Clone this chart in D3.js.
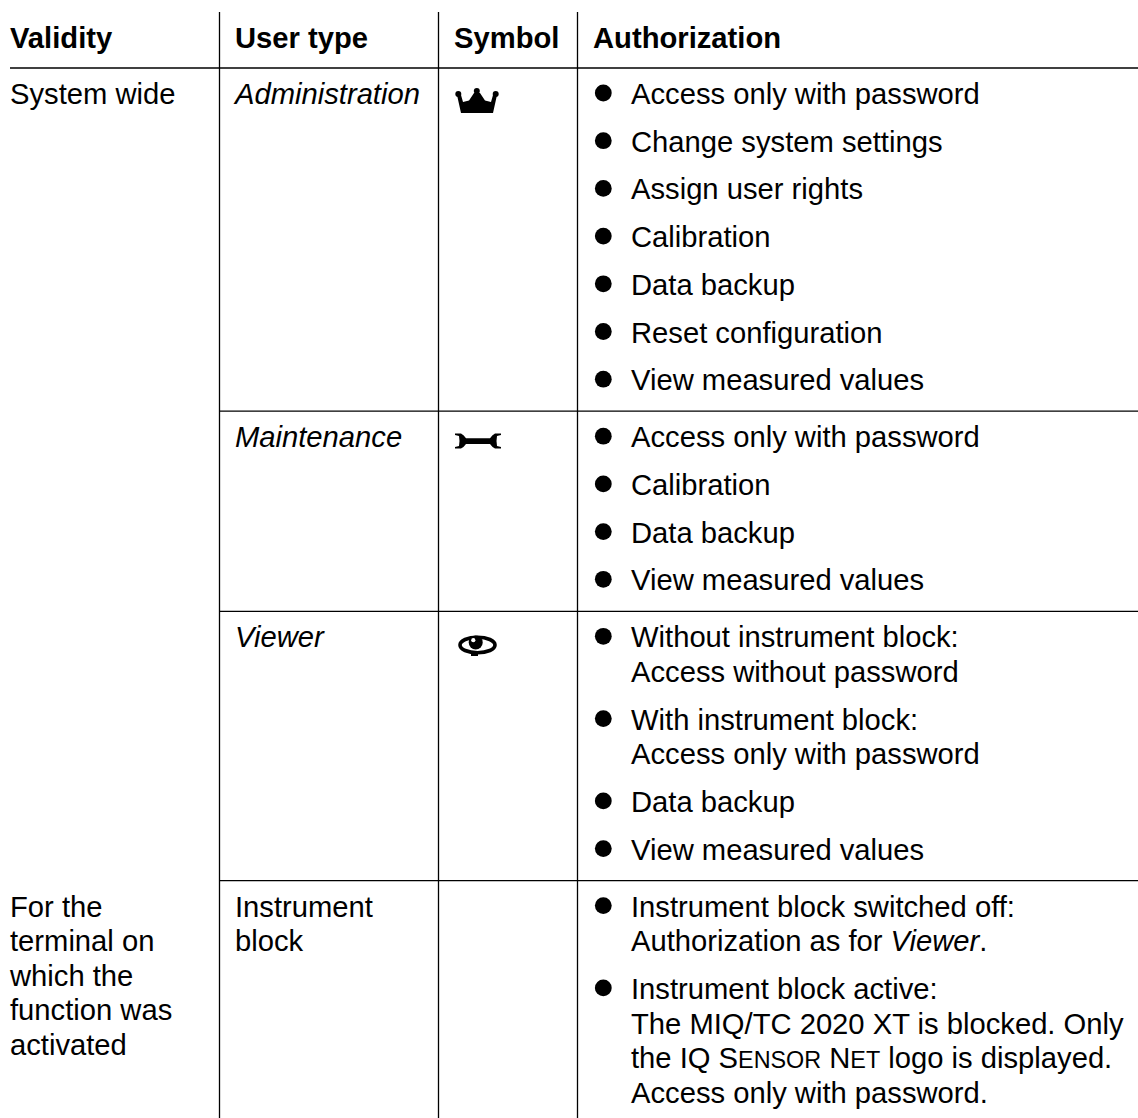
<!DOCTYPE html>
<html>
<head>
<meta charset="utf-8">
<script src="https://cdn.jsdelivr.net/npm/d3@7"></script>
<style>
  html, body { margin: 0; padding: 0; background: #fff; }
  svg { display: block; }
  text { font-family: "Liberation Sans", Arial, sans-serif; font-size: 29.2px; fill: #000; }
  .head { font-weight: bold; }
  .rule { stroke: #000; stroke-width: 1.3px; }
</style>
</head>
<body>
<svg width="1138" height="1118"></svg>
<script>
// table content: _x_ is italic, ^x^ is small caps
var columns = ["Validity", "User type", "Symbol", "Authorization"];
var validityA = ["System wide"];
var validityB = ["For the", "terminal on", "which the", "function was", "activated"];
var userTypes = ["_Administration_", "_Maintenance_", "_Viewer_", "Instrument|block"];
var symbols = ["crown", "wrench", "eye", null];

var adminRights = [
  ["Access only with password"],
  ["Change system settings"],
  ["Assign user rights"],
  ["Calibration"],
  ["Data backup"],
  ["Reset configuration"],
  ["View measured values"]
];
var maintenanceRights = [
  ["Access only with password"],
  ["Calibration"],
  ["Data backup"],
  ["View measured values"]
];
var viewerRights = [
  ["Without instrument block:", "Access without password"],
  ["With instrument block:", "Access only with password"],
  ["Data backup"],
  ["View measured values"]
];
var blockRights = [
  ["Instrument block switched off:", "Authorization as for _Viewer_."],
  ["Instrument block active:", "The MIQ/TC 2020 XT is blocked. Only", "the IQ ^Sensor Net^ logo is displayed.", "Access only with password."]
];
var rights = [adminRights, maintenanceRights, viewerRights, blockRights];

var svg = d3.select("svg"),
    width = +svg.attr("width"),
    height = +svg.attr("height"),
    left = 10,
    headRule = 68,
    headBase = 47.5,
    firstBase = 36,     // rule to first baseline
    linePitch = 34.6,   // inside a paragraph
    paraPitch = 47.7,   // between bullets
    lastGap = 21;       // last baseline to rule

// text x for each column
var x = d3.scaleOrdinal().domain(columns).range([left, 235, 454, 593]);
var dividers = [219.5, 438.5, 577.5];
var bulletX = 603.3, bulletR = 8.4, bulletText = 631;

function addLine(g, str, xpos, ypos, cls) {
  var t = g.append("text").attr("x", xpos).attr("y", ypos).attr("class", cls || null);
  str.split(/(_[^_]+_|\^[^^]+\^)/).forEach(function(part) {
    if (!part) return;
    if (part[0] == "_") {
      t.append("tspan").style("font-style", "italic").text(part.slice(1, -1));
    } else if (part[0] == "^") {
      // small caps at the size the manual uses, browser's own are too small
      part.slice(1, -1).match(/[a-z]+|[^a-z]+/g).forEach(function(bit) {
        var span = t.append("tspan").text(bit.toUpperCase());
        if (bit != bit.toUpperCase()) span.style("font-size", "0.8em");
      });
    } else {
      t.append("tspan").text(part);
    }
  });
  return t;
}

// HEADER ------------------------
columns.forEach(function(c) { addLine(svg, c, x(c), headBase, "head"); });

svg.append("line").attr("class", "rule")
    .attr("x1", left).attr("x2", width)
    .attr("y1", headRule).attr("y2", headRule);

svg.selectAll(".divider")
    .data(dividers)
  .enter().append("line")
    .attr("class", "rule divider")
    .attr("x1", function(d) { return d; })
    .attr("x2", function(d) { return d; })
    .attr("y1", 12)
    .attr("y2", height);

// ICONS ------------------------ drawn in their own little boxes
var icons = {
  crown: function(g) {
    g.attr("transform", "translate(454,88)");
    g.append("path").attr("d", "M3 7 L7 7 L9 14 L15 12.5 L20 5 L26 5 L31 12.5 L37 14 L39 7 L43 7 L39 25 L7 25 Z");
    g.selectAll("circle").data([[4.3, 6, 3], [22.8, 3, 3], [41.7, 6, 3]])
      .enter().append("circle")
      .attr("cx", function(d) { return d[0]; })
      .attr("cy", function(d) { return d[1]; })
      .attr("r", function(d) { return d[2]; });
  },
  wrench: function(g) {
    g.attr("transform", "translate(455,433)");
    g.append("path").attr("d", "M0 0.5 L6 0.5 Q9 2 11 5.3 L35 5.3 Q37 2 40 0.5 L46 0.5 L46 2 L42 3 Q41 8 42 13 L46 14 L46 15.5 L40 15.5 Q37 14 35 11 L11 11 Q9 14 6 15.5 L0 15.5 L0 14 L4 13 Q5 8 4 3 L0 2 Z");
  },
  eye: function(g) {
    g.attr("transform", "translate(458,635)");
    g.append("ellipse").attr("cx", 19.5).attr("cy", 10).attr("rx", 17.5).attr("ry", 7.8)
      .attr("fill", "none").attr("stroke", "#000").attr("stroke-width", 3.6);
    g.append("circle").attr("cx", 17.7).attr("cy", 7.5).attr("r", 7);
    g.append("circle").attr("cx", 15.3).attr("cy", 5.2).attr("r", 2.1).attr("fill", "#fff");
    g.append("rect").attr("x", 13).attr("y", 17).attr("width", 7).attr("height", 4);
  }
};

// BODY ------------------------
var y = headRule;
rights.forEach(function(items, i) {
  var rowTop = y;
  var g = svg.append("g");
  var base = rowTop + firstBase;

  // user type, may wrap
  userTypes[i].split("|").forEach(function(s, k) {
    addLine(g, s, x("User type"), base + k * linePitch);
  });

  if (symbols[i]) icons[symbols[i]](svg.append("g"));

  // first and last row carry the validity cell
  if (i == 0) validityA.forEach(function(s, k) { addLine(g, s, left, base + k * linePitch); });
  if (i == 3) validityB.forEach(function(s, k) { addLine(g, s, left, base + k * linePitch); });

  var cur = base;
  items.forEach(function(lines, n) {
    if (n > 0) cur += paraPitch;
    g.append("circle").attr("cx", bulletX).attr("cy", cur - 11).attr("r", bulletR);
    lines.forEach(function(s, k) {
      if (k > 0) cur += linePitch;
      addLine(g, s, bulletText, cur);
    });
  });

  y = cur + lastGap;
  if (i < rights.length - 1) {
    svg.append("line").attr("class", "rule")
        .attr("x1", x("User type") - 15.5).attr("x2", width)
        .attr("y1", y).attr("y2", y);
  }
});
</script>
</body>
</html>
